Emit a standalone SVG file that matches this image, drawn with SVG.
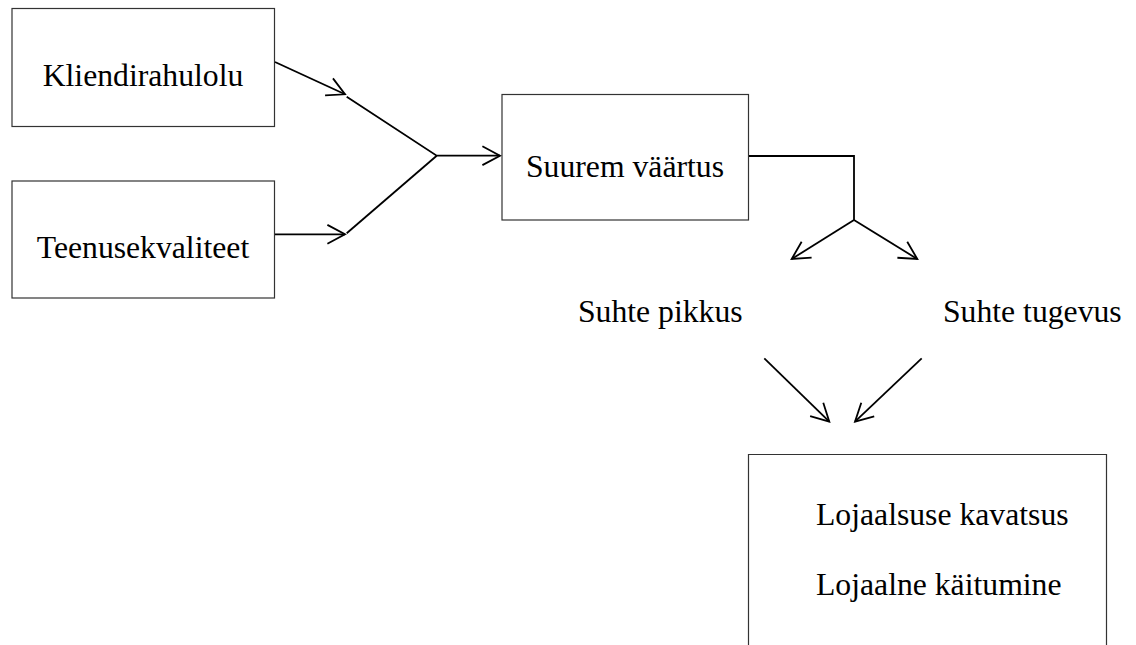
<svg xmlns="http://www.w3.org/2000/svg" width="1136" height="645" viewBox="0 0 1136 645">
<style>
.box{fill:#fff;stroke:#333;stroke-width:1.2}
.t{font-family:"Liberation Serif","Times New Roman",serif;font-size:31.7px;fill:#000}
.c{fill:none;stroke:#000;stroke-width:1.8}
.m{fill:none;stroke:#000;stroke-width:1.8}
</style>
<defs>
<marker id="ah" markerUnits="userSpaceOnUse" viewBox="-22 -12 26 24" markerWidth="26" markerHeight="24" refX="0" refY="0" orient="auto" overflow="visible">
<path class="m" d="M-17.6,-9.4 L0,0 L-17.6,9.4"/>
</marker>
</defs>
<rect width="1136" height="645" fill="#fff"/>
<g id="n-kliendirahulolu">
<rect class="box" x="12" y="8.5" width="262.5" height="118"/>
<text class="t" x="143" y="86" text-anchor="middle">Kliendirahulolu</text>
</g>
<g id="n-teenusekvaliteet">
<rect class="box" x="12" y="181" width="262.5" height="117"/>
<text class="t" x="143" y="258" text-anchor="middle">Teenusekvaliteet</text>
</g>
<g id="n-suurem">
<rect class="box" x="502" y="94.5" width="246.5" height="125.5"/>
<text class="t" x="625" y="176.5" text-anchor="middle">Suurem väärtus</text>
</g>
<g id="n-pikkus">
<text class="t" x="578" y="322">Suhte pikkus</text>
</g>
<g id="n-tugevus">
<text class="t" x="943" y="322">Suhte tugevus</text>
</g>
<g id="n-lojaalsus">
<path class="box" d="M748.5,645 L748.5,454.5 L1106.5,454.5 L1106.5,645" fill="#fff"/>
<text class="t" x="816" y="525">Lojaalsuse kavatsus</text>
<text class="t" x="816" y="595">Lojaalne käitumine</text>
</g>
<g id="connectors">
<path class="c" d="M275,62 L345,94.3" marker-end="url(#ah)"/>
<path class="c" d="M275,234.3 L345,234.3" marker-end="url(#ah)"/>
<path class="c" d="M346.7,96.7 L436.7,155.7 L500,155.7" marker-end="url(#ah)"/>
<path class="c" d="M346.7,233.3 L436.7,155.7"/>
<path class="c" d="M749,156 L854,156 L854,220"/>
<path class="c" d="M854,220 L791.7,259" marker-end="url(#ah)"/>
<path class="c" d="M854,220 L917.3,259" marker-end="url(#ah)"/>
<path class="c" d="M764.3,358.3 L829.3,421.7" marker-end="url(#ah)"/>
<path class="c" d="M921.7,358.3 L855,421.7" marker-end="url(#ah)"/>
</g>
</svg>
